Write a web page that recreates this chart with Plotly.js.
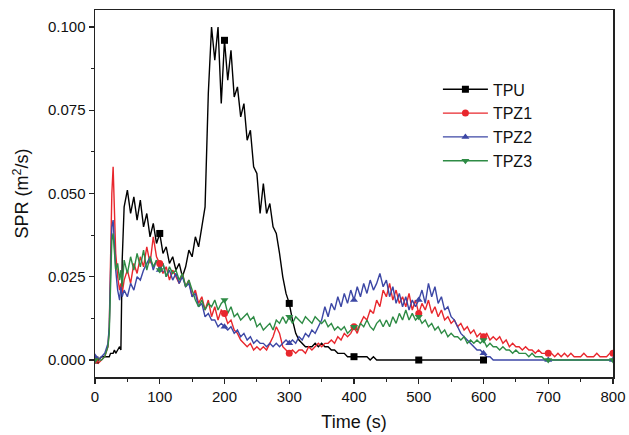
<!DOCTYPE html>
<html>
<head>
<meta charset="utf-8">
<script src="https://cdn.plot.ly/plotly-3.0.1.min.js"></script>
<style>html,body{margin:0;padding:0;background:#fff}#chart{width:629px;height:435px}</style>
</head>
<body>
<div id="chart"></div>
<script>
// Time (s)
var time = [0,5,10,15,20,22,24,26,28,30,32,35,38,40,42,45,
50,55,60,65,70,75,80,85,90,95,
100,105,110,115,120,125,130,135,140,145,
150,155,160,165,170,175,180,185,190,195,
200,205,210,215,220,225,230,235,240,245,
250,255,260,265,270,275,280,285,290,295,
300,305,310,315,320,325,330,335,340,345,
350,355,360,365,370,375,380,385,390,395,
400,405,410,415,420,425,430,435,440,445,
450,455,460,465,470,475,480,485,490,495,
500,505,510,515,520,525,530,535,540,545,
550,555,560,565,570,575,580,585,590,595,
600,605,610,615,620,625,630,635,640,645,
650,655,660,665,670,675,680,685,690,695,
700,705,710,715,720,725,730,735,740,745,
750,755,760,765,770,775,780,785,790,795,
800];

var tpu = [0.000,0.000,0.001,0.001,0.001,0.001,0.002,0.002,0.002,0.003,0.002,0.003,0.004,0.003,0.030,0.046,
0.051,0.044,0.049,0.042,0.048,0.040,0.044,0.037,0.041,0.035,
0.038,0.032,0.034,0.029,0.031,0.027,0.029,0.025,0.028,0.033,
0.031,0.037,0.034,0.040,0.046,0.080,0.100,0.090,0.100,0.077,
0.096,0.084,0.093,0.079,0.082,0.073,0.077,0.066,0.069,0.058,
0.056,0.044,0.053,0.044,0.047,0.040,0.038,0.032,0.025,0.020,
0.017,0.012,0.008,0.006,0.005,0.004,0.004,0.004,0.005,0.004,
0.005,0.004,0.004,0.003,0.003,0.002,0.002,0.002,0.001,0.001,
0.001,0.001,0.001,0.001,0.001,0.000,0.001,0.000,0.000,0.000,
0.000,0.000,0.000,0.000,0.000,0.000,0.000,0.000,0.000,0.000,
0.000,0.000,0.000,0.000,0.000,0.000,0.000,0.000,0.000,0.000,
0.000,0.000,0.000,0.000,0.000,0.000,0.000,0.000,0.000,0.000,
0.000,null,null,null,null,null,null,null,null,null,
null,null,null,null,null,null,null,null,null,null,
null,null,null,null,null,null,null,null,null,null,
null,null,null,null,null,null,null,null,null,null,
null];

var tpz1 = [0.000,-0.001,0.000,0.001,0.004,0.010,0.030,0.050,0.058,0.044,0.032,0.025,0.021,0.023,0.020,0.024,
0.027,0.023,0.029,0.026,0.031,0.028,0.034,0.029,0.037,0.031,
0.029,0.026,0.028,0.024,0.027,0.025,0.023,0.026,0.022,0.024,
0.019,0.021,0.017,0.019,0.015,0.018,0.013,0.016,0.012,0.015,
0.014,0.011,0.012,0.009,0.008,0.006,0.005,0.004,0.005,0.003,
0.004,0.003,0.004,0.003,0.005,0.007,0.010,0.008,0.004,0.003,
0.002,0.003,0.002,0.003,0.003,0.002,0.004,0.003,0.004,0.005,
0.004,0.005,0.005,0.006,0.005,0.007,0.006,0.008,0.007,0.008,
0.010,0.008,0.011,0.013,0.012,0.015,0.014,0.018,0.016,0.021,
0.019,0.023,0.018,0.021,0.017,0.019,0.016,0.020,0.015,0.018,
0.014,0.017,0.015,0.018,0.014,0.016,0.013,0.015,0.012,0.013,
0.011,0.012,0.010,0.011,0.009,0.010,0.008,0.009,0.007,0.008,
0.007,0.008,0.006,0.007,0.006,0.007,0.005,0.006,0.004,0.005,
0.004,0.004,0.003,0.004,0.003,0.003,0.002,0.003,0.002,0.002,
0.002,0.002,0.001,0.002,0.001,0.002,0.001,0.002,0.001,0.001,
0.001,0.002,0.001,0.001,0.001,0.002,0.001,0.001,0.001,0.002,
0.002];

var tpz2 = [0.001,0.000,0.001,0.002,0.005,0.010,0.026,0.040,0.042,0.034,0.027,0.021,0.018,0.022,0.019,0.021,
0.019,0.023,0.021,0.025,0.024,0.027,0.029,0.031,0.027,0.030,
0.027,0.029,0.025,0.027,0.024,0.026,0.023,0.025,0.022,0.023,
0.019,0.020,0.016,0.017,0.013,0.014,0.012,0.012,0.010,0.011,
0.010,0.009,0.010,0.008,0.009,0.007,0.008,0.006,0.007,0.005,
0.006,0.005,0.005,0.004,0.005,0.004,0.005,0.004,0.005,0.006,
0.005,0.006,0.005,0.007,0.006,0.008,0.007,0.009,0.008,0.010,
0.012,0.016,0.013,0.017,0.015,0.019,0.016,0.020,0.017,0.021,
0.018,0.022,0.019,0.023,0.020,0.024,0.021,0.023,0.026,0.022,
0.024,0.019,0.022,0.017,0.020,0.016,0.019,0.015,0.018,0.016,
0.018,0.021,0.017,0.023,0.019,0.022,0.017,0.019,0.015,0.016,
0.013,0.012,0.010,0.008,0.007,0.006,0.005,0.004,0.003,0.003,
0.002,0.001,0.001,0.000,0.000,0.000,0.000,0.000,0.000,0.000,
0.000,0.000,0.000,0.000,0.000,0.000,0.000,0.000,0.000,0.000,
0.000,0.000,0.000,0.000,0.000,0.000,0.000,0.000,0.000,0.000,
0.000,0.000,0.000,0.000,0.000,0.000,0.000,0.000,0.000,0.000,
0.000];

var tpz3 = [0.000,0.000,0.000,0.001,0.004,0.008,0.022,0.036,0.038,0.031,0.027,0.029,0.024,0.027,0.022,0.030,
0.026,0.031,0.027,0.032,0.028,0.033,0.027,0.031,0.028,0.030,
0.027,0.029,0.025,0.028,0.026,0.027,0.024,0.026,0.022,0.024,
0.021,0.018,0.016,0.018,0.015,0.017,0.016,0.018,0.015,0.017,
0.018,0.014,0.016,0.013,0.014,0.012,0.013,0.014,0.012,0.013,
0.010,0.011,0.009,0.010,0.011,0.009,0.012,0.011,0.013,0.011,
0.013,0.011,0.013,0.012,0.011,0.013,0.012,0.011,0.013,0.012,
0.011,0.012,0.010,0.011,0.009,0.010,0.009,0.010,0.008,0.009,
0.010,0.009,0.011,0.010,0.012,0.010,0.009,0.011,0.012,0.010,
0.012,0.010,0.013,0.011,0.014,0.012,0.015,0.012,0.014,0.012,
0.013,0.011,0.012,0.010,0.011,0.009,0.010,0.008,0.009,0.007,
0.008,0.007,0.007,0.006,0.007,0.005,0.006,0.005,0.006,0.005,
0.006,0.004,0.005,0.004,0.004,0.003,0.004,0.003,0.003,0.002,
0.003,0.002,0.002,0.002,0.001,0.002,0.001,0.001,0.001,0.000,
0.000,0.000,0.000,0.000,0.000,0.000,0.000,0.000,0.000,0.000,
0.000,0.000,0.000,0.000,0.000,0.000,0.000,0.000,0.000,0.000,
0.000];

var seriesNames = ['TPU','TPZ1','TPZ2','TPZ3'];
var seriesData = [tpu, tpz1, tpz2, tpz3];
var colors = ['#000000','#e8272d','#3c47a5','#2e8b45'];
var symbols = ['square','circle','triangle-up','triangle-down'];

var traces = [];
// lines
seriesData.forEach(function(v, i){
  traces.push({
    x: time, y: v, type: 'scatter', mode: 'lines', showlegend: false, hoverinfo: 'skip',
    line: {color: colors[i], width: 1.4}, connectgaps: false
  });
});
// markers every 100 s
seriesData.forEach(function(v, i){
  var mx = [], my = [];
  time.forEach(function(t, k){ if (t % 100 === 0 && v[k] !== null) { mx.push(t); my.push(v[k]); } });
  traces.push({
    x: mx, y: my, type: 'scatter', mode: 'markers', showlegend: false, hoverinfo: 'skip',
    marker: {color: colors[i], symbol: symbols[i], size: 7}, cliponaxis: true
  });
});
// legend entries
seriesData.forEach(function(v, i){
  traces.push({
    x: [-1000], y: [-1], name: seriesNames[i], type: 'scatter', mode: 'lines+markers',
    line: {color: colors[i], width: 1.4},
    marker: {color: colors[i], symbol: symbols[i], size: 7}
  });
});

var layout = {
  width: 629, height: 435,
  margin: {l: 95, r: 16, t: 10, b: 58},
  paper_bgcolor: '#fff', plot_bgcolor: '#fff',
  font: {family: 'Liberation Sans, Arial, sans-serif', color: '#111', size: 15},
  showlegend: true,
  legend: {x: 0.662, y: 0.83, xanchor: 'left', yanchor: 'top', bgcolor: 'rgba(0,0,0,0)',
           font: {size: 16, color: '#111'}, itemwidth: 45, tracegroupgap: 0},
  xaxis: {
    range: [0, 800], tickvals: [0,100,200,300,400,500,600,700,800],
    ticks: 'outside', ticklen: 5, tickwidth: 1.3, tickcolor: '#222',
    minor: {tickvals: [50,150,250,350,450,550,650,750], ticks: 'outside', ticklen: 3, tickwidth: 1.2, tickcolor: '#222'},
    showline: true, linecolor: '#222', linewidth: 1.5, mirror: true,
    showgrid: false, zeroline: false,
    tickfont: {size: 15},
    title: {text: 'Time (s)', font: {size: 18}, standoff: 12}
  },
  yaxis: {
    range: [-0.0051, 0.1051], tickvals: [0, 0.025, 0.05, 0.075, 0.1],
    ticktext: ['0.000','0.025','0.050','0.075','0.100'],
    ticks: 'outside', ticklen: 5, tickwidth: 1.3, tickcolor: '#222',
    minor: {tickvals: [0.0125, 0.0375, 0.0625, 0.0875], ticks: 'outside', ticklen: 3, tickwidth: 1.2, tickcolor: '#222'},
    showline: true, linecolor: '#222', linewidth: 1.5, mirror: true,
    showgrid: false, zeroline: false,
    tickfont: {size: 15},
    title: {text: 'SPR (m<sup>2</sup>/s)', font: {size: 18}, standoff: 14}
  }
};

Plotly.newPlot('chart', traces, layout, {displayModeBar: false, staticPlot: true});
</script>
</body>
</html>
